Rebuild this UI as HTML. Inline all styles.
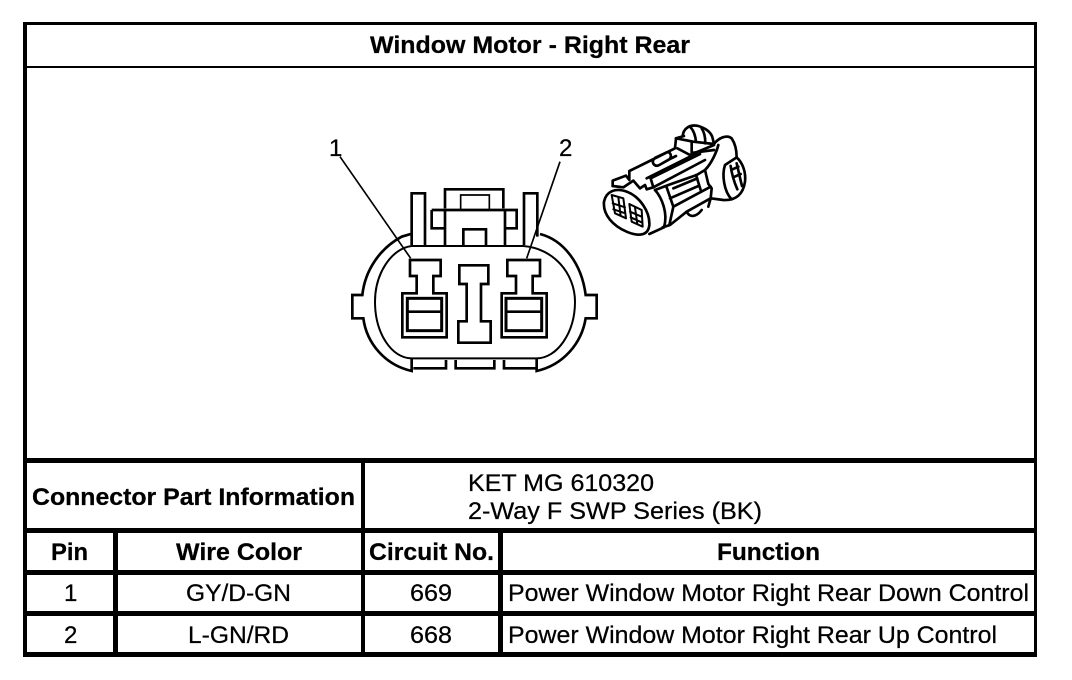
<!DOCTYPE html>
<html><head><meta charset="utf-8"><style>
html,body{margin:0;padding:0;background:#fff}
svg{display:block}
text{font-family:"Liberation Sans",Arial,sans-serif;fill:#000;font-size:24px;stroke:#000;stroke-width:.25px}
.b{font-weight:bold}
</style></head><body>
<svg width="1072" height="680" viewBox="0 0 1072 680" xmlns="http://www.w3.org/2000/svg">
<rect width="1072" height="680" fill="#fff"/>
<!-- table lines -->
<g fill="#000">
<rect x="23" y="22" width="1014" height="3"/>
<rect x="23" y="66" width="1014" height="2"/>
<rect x="23" y="22" width="4" height="635"/>
<rect x="1034" y="22" width="3" height="635"/>
<rect x="23" y="458" width="1014" height="5"/>
<rect x="23" y="528" width="1014" height="5"/>
<rect x="23" y="570" width="1014" height="5"/>
<rect x="23" y="611" width="1014" height="5"/>
<rect x="23" y="652" width="1014" height="5"/>
<rect x="113" y="530" width="5" height="125"/>
<rect x="361" y="460" width="4" height="195"/>
<rect x="498" y="530" width="5" height="125"/>
</g>
<!-- table text -->
<text class="b" x="370" y="53" textLength="320" lengthAdjust="spacingAndGlyphs">Window Motor - Right Rear</text>
<text class="b" x="32" y="505" textLength="323" lengthAdjust="spacingAndGlyphs">Connector Part Information</text>
<text x="468" y="491" textLength="186" lengthAdjust="spacingAndGlyphs">KET MG 610320</text>
<text x="468" y="519" textLength="294" lengthAdjust="spacingAndGlyphs">2-Way F SWP Series (BK)</text>
<text class="b" x="51" y="560" textLength="37" lengthAdjust="spacingAndGlyphs">Pin</text>
<text class="b" x="176" y="560" textLength="126" lengthAdjust="spacingAndGlyphs">Wire Color</text>
<text class="b" x="369" y="560" textLength="125" lengthAdjust="spacingAndGlyphs">Circuit No.</text>
<text class="b" x="717" y="560" textLength="103" lengthAdjust="spacingAndGlyphs">Function</text>
<text x="64" y="601">1</text>
<text x="186" y="601" textLength="105" lengthAdjust="spacingAndGlyphs">GY/D-GN</text>
<text x="410" y="601" textLength="42" lengthAdjust="spacingAndGlyphs">669</text>
<text x="508" y="601" textLength="521" lengthAdjust="spacingAndGlyphs">Power Window Motor Right Rear Down Control</text>
<text x="64" y="643">2</text>
<text x="188" y="643" textLength="101" lengthAdjust="spacingAndGlyphs">L-GN/RD</text>
<text x="410" y="643" textLength="42" lengthAdjust="spacingAndGlyphs">668</text>
<text x="508" y="643" textLength="489" lengthAdjust="spacingAndGlyphs">Power Window Motor Right Rear Up Control</text>
<text x="329" y="156">1</text>
<text x="559" y="156">2</text>
<!-- main connector -->
<g transform="translate(320 120) scale(.33333)" fill="none" stroke="#000" stroke-width="8" stroke-linejoin="miter">
<path d="M272 342 L245 350 C180 385 135 450 127 525 L97 525 L97 595 L130 595 C140 670 195 735 275 753 L275 715"/>
<path d="M660 342 C730 360 785 430 797 525 L830 525 L830 595 L797 595 C785 670 730 735 650 753 L650 715"/>
<path d="M275 378 L610 378 C700 385 765 460 765 545 C765 640 710 715 650 715 L275 715 C215 715 165 640 165 545 C165 460 215 385 275 378 Z" stroke-width="6"/>
<path d="M275 375 L275 220 L315 220 L315 375"/>
<path d="M612 375 L612 220 L652 220 L652 350"/>
<path d="M375 265 L375 208 L550 208 L550 265"/>
<path d="M422 268 L422 225 L508 225 L508 268" stroke-width="5"/>
<path d="M335 270 L590 270 L590 325 L555 325 M335 270 L335 325 L375 325" />
<path d="M375 270 L375 375 M555 270 L555 375"/>
<path d="M430 375 L430 328 L498 328 L498 375"/>
<path d="M280 745 L378 745 L378 720 M407 720 L407 745 L523 745 L523 720 M552 720 L552 745 L650 745"/>
<path d="M270 420 H362 V468 H340 V520 H380 V652 H247 V520 H290 V468 H270 Z"/>
<rect x="262" y="535" width="103" height="97" stroke-width="9"/>
<path d="M262 575 H365"/>
<path d="M418 436 H505 V492 H483 V604 H512 V668 H415 V604 H440 V492 H418 Z"/>
<path d="M562 420 H660 V468 H638 V520 H680 V652 H545 V520 H588 V468 H562 Z"/>
<rect x="558" y="535" width="107" height="97" stroke-width="9"/>
<path d="M558 575 H665"/>
<path d="M60 110 L272 415 M720 125 L620 415" stroke-width="5"/>
</g>
<!-- iso connector -->
<g transform="translate(590 110) scale(.33333)" fill="none" stroke="#000" stroke-width="8" stroke-linejoin="round" stroke-linecap="round">
<path d="M68 228 L68 212 L108 197 L118 210 L118 183 L185 150 L255 115 L258 85 L282 78"/>
<path d="M278 78 C280 55 300 42 325 48 C350 55 365 70 368 85 L372 102"/>
<path d="M300 50 C310 60 316 75 318 95 M335 55 C342 65 346 80 346 100"/>
<path d="M258 85 L310 95 L372 102 M262 115 L300 135 L372 105 M305 95 L305 132"/>
<path d="M190 150 C185 160 195 172 208 165 L238 148 C248 138 240 122 228 128 L196 143 M238 148 L258 138"/>
<path d="M310 128 L372 120"/>
<path d="M372 102 C385 85 410 72 425 85 C435 100 440 120 440 142 C460 160 468 190 465 215 C460 250 440 272 400 270 L362 265"/>
<path d="M385 105 C380 125 365 160 345 180 L355 222 L365 235 L362 265 L290 305 L240 345 L218 352"/>
<path d="M440 142 L405 165 C395 195 402 245 425 268"/>
<path d="M422 168 C425 190 432 215 442 238 M440 160 C445 180 450 205 456 228 M428 178 L445 170 M434 200 L452 192"/>
<path d="M68 228 L100 232 L130 212 L150 235 L165 225 L170 238 L190 232 L182 205 L330 132"/>
<path d="M190 232 L345 150 M170 205 L320 130"/>
<path d="M195 240 C215 262 235 310 222 352 L178 372"/>
<path d="M195 240 L235 225 L320 195 L345 180 M230 232 L250 290 L362 230 M250 235 L322 205 M240 265 L325 228 M318 195 L332 240"/>
<path d="M250 290 L238 345 M290 305 C300 325 320 320 335 300 M362 265 L355 290"/>
<path d="M42 275 C48 245 75 232 110 245 C150 260 180 305 178 345 C175 378 145 380 110 365 C70 348 38 315 42 275 Z"/>
<path d="M65 255 L100 265 L108 325 L75 310 Z M85 262 L92 318 M68 280 L105 292 M70 298 L106 310" stroke-width="6"/>
<path d="M118 282 L155 300 L158 350 L125 335 Z M135 292 L142 342 M120 305 L155 320 M122 322 L157 338" stroke-width="6"/>
</g>
</svg>
</body></html>
